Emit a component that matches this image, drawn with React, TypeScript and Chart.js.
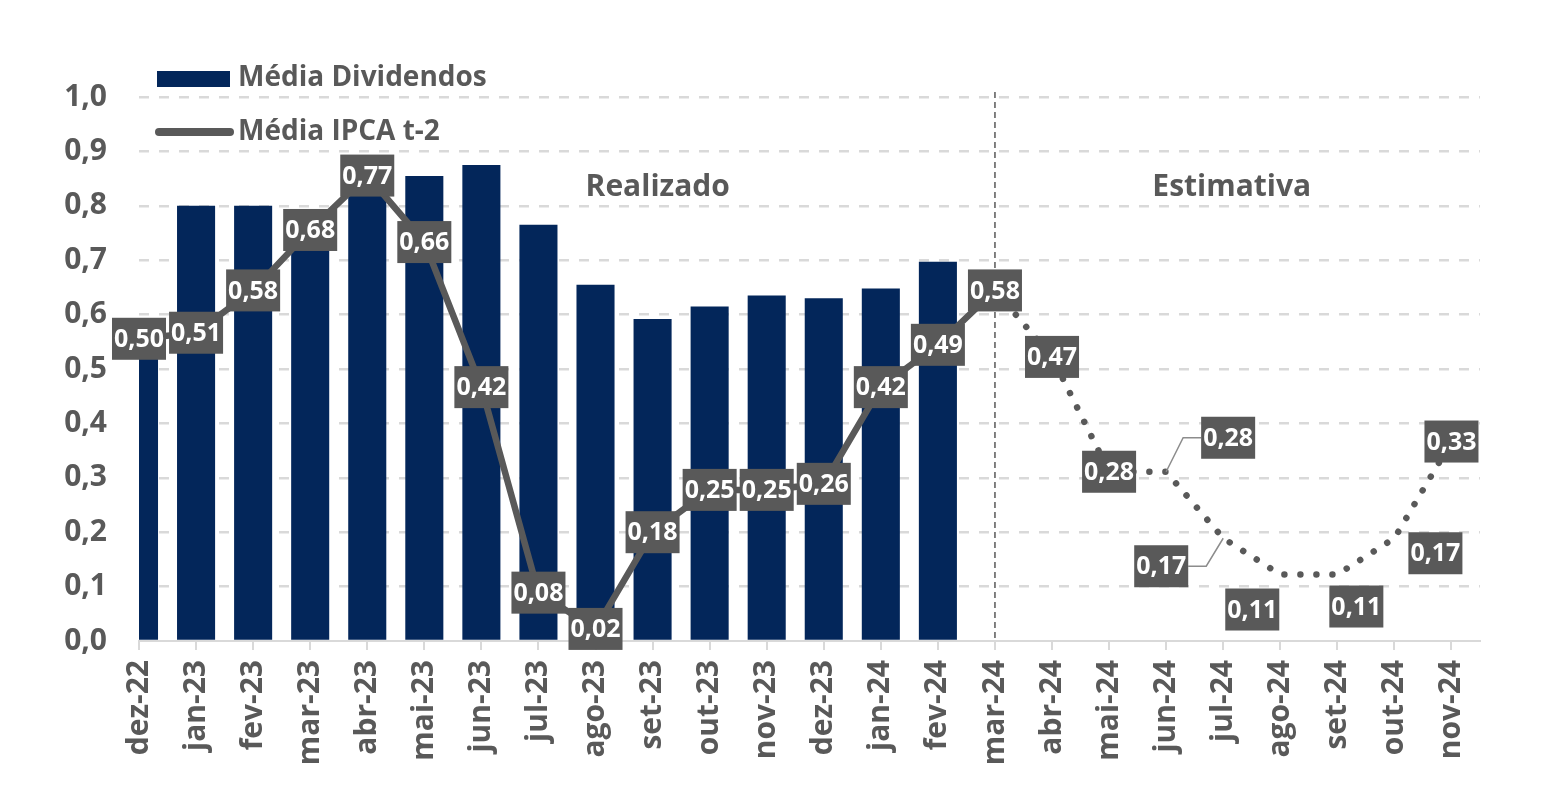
import { useEffect, useRef } from 'react'
import { Chart, registerables } from 'chart.js'

Chart.register(...registerables)

const months = [
  'dez-22', 'jan-23', 'fev-23', 'mar-23', 'abr-23', 'mai-23', 'jun-23', 'jul-23',
  'ago-23', 'set-23', 'out-23', 'nov-23', 'dez-23', 'jan-24', 'fev-24', 'mar-24',
  'abr-24', 'mai-24', 'jun-24', 'jul-24', 'ago-24', 'set-24', 'out-24', 'nov-24',
]

// Média Dividendos (realizado)
const dividendos = [0.58, 0.8, 0.8, 0.79, 0.84, 0.855, 0.875, 0.765, 0.655, 0.592, 0.615, 0.635, 0.63, 0.648, 0.697]

// Média IPCA t-2 (realizado até mar-24, estimativa depois)
const ipca = [
  0.5, 0.51, 0.58, 0.68, 0.77, 0.66, 0.42, 0.08, 0.02, 0.18, 0.25, 0.25, 0.26, 0.42, 0.49, 0.58,
  0.47, 0.28, 0.28, 0.17, 0.11, 0.11, 0.17, 0.33,
]

const sectionLabels = ['Realizado', 'Estimativa']

// index of the first estimated month (mar-24)
const firstEstimate = 15

const GRAY = '#595959'
const NAVY = '#03265A'
const GRID = '#d9d9d9'
const FONT = "'Open Sans', sans-serif"

// data-label placement tweaks (px), like the offsets moved by hand in Excel
const labelOffsets: Record<number, { dx: number; dy: number; leader?: boolean }> = {
  18: { dx: 62, dy: -34, leader: true },
  19: { dx: -62, dy: 28, leader: true },
  20: { dx: -28, dy: 35 },
  21: { dx: 19, dy: 32 },
  22: { dx: 41, dy: 15 },
}

const fmt = (v: number) => v.toFixed(2).replace('.', ',')

const annotations = {
  id: 'annotations',
  beforeDatasetsDraw(chart: any) {
    const { ctx, chartArea, scales } = chart
    const x = scales.x.getPixelForValue(firstEstimate)
    ctx.save()
    ctx.strokeStyle = GRAY
    ctx.lineWidth = 1.5
    ctx.setLineDash([6, 4])
    ctx.beginPath()
    ctx.moveTo(x, chartArea.top - 5)
    ctx.lineTo(x, chartArea.bottom)
    ctx.stroke()
    ctx.setLineDash([])
    ctx.fillStyle = GRAY
    ctx.font = `bold 30px ${FONT}`
    ctx.textAlign = 'center'
    ctx.textBaseline = 'middle'
    const ty = scales.y.getPixelForValue(0.833)
    ctx.fillText(sectionLabels[0], scales.x.getPixelForValue(9.09), ty)
    ctx.fillText(sectionLabels[1], scales.x.getPixelForValue(19.15), ty)
    ctx.restore()
  },
}

const boxLabels = {
  id: 'boxLabels',
  afterDatasetsDraw(chart: any) {
    const meta = chart.getDatasetMeta(0)
    const ctx = chart.ctx
    ctx.save()
    ctx.font = `bold 25px ${FONT}`
    ctx.textAlign = 'center'
    ctx.textBaseline = 'middle'
    meta.data.forEach((pt: any, i: number) => {
      const off = labelOffsets[i] || { dx: 0, dy: 0 }
      const text = fmt(ipca[i])
      const cx = pt.x + off.dx
      const cy = pt.y + off.dy
      const w = Math.max(52, ctx.measureText(text).width + 4)
      const h = 42
      if (off.leader) {
        const sx = off.dx > 0 ? cx - w / 2 : cx + w / 2
        const mx = off.dx > 0 ? sx - 18 : sx + 18
        ctx.strokeStyle = '#8c8c8c'
        ctx.lineWidth = 1.5
        ctx.beginPath()
        ctx.moveTo(sx, cy)
        ctx.lineTo(mx, cy)
        ctx.lineTo(pt.x, pt.y)
        ctx.stroke()
      }
      ctx.fillStyle = GRAY
      ctx.fillRect(cx - w / 2, cy - h / 2, w, h)
      ctx.fillStyle = '#ffffff'
      ctx.fillText(text, cx, cy + 1)
    })
    ctx.restore()
  },
}

const legendBox = {
  id: 'legendBox',
  afterDraw(chart: any) {
    const { ctx, chartArea } = chart
    const left = chartArea.left + 18
    const top = chartArea.top
    ctx.save()
    ctx.fillStyle = NAVY
    ctx.fillRect(left, top - 26, 73, 16)
    ctx.strokeStyle = GRAY
    ctx.lineWidth = 8
    ctx.lineCap = 'round'
    ctx.beginPath()
    ctx.moveTo(left + 2, top + 35)
    ctx.lineTo(left + 73, top + 35)
    ctx.stroke()
    ctx.fillStyle = GRAY
    ctx.font = `bold 28px ${FONT}`
    ctx.textAlign = 'left'
    ctx.textBaseline = 'middle'
    ctx.fillText(chart.data.datasets[1].label, left + 81, top - 19)
    ctx.fillText(chart.data.datasets[0].label, left + 81, top + 35)
    ctx.restore()
  },
}

const tickFont = { family: FONT, size: 30, weight: 'bold' as const }

const App = () => {
  const canvasRef = useRef<HTMLCanvasElement | null>(null)
  const chartRef = useRef<Chart | null>(null)

  useEffect(() => {
    document.body.style.margin = '0'
    const ctx = canvasRef.current?.getContext('2d')
    if (!ctx) return
    if (chartRef.current) chartRef.current.destroy()

    chartRef.current = new Chart(ctx, {
      type: 'bar',
      data: {
        datasets: [
          {
            type: 'line',
            label: 'Média IPCA t-2',
            data: ipca.map((v, i) => ({ x: i, y: v })),
            yAxisID: 'y2',
            borderColor: GRAY,
            borderWidth: 6.5,
            borderJoinStyle: 'miter',
            pointRadius: 0,
            tension: 0,
            order: 0,
            clip: false,
            segment: {
              borderDash: (c: any) => (c.p0DataIndex >= firstEstimate ? [0.01, 16] : undefined),
              borderCapStyle: (c: any) => (c.p0DataIndex >= firstEstimate ? 'round' : undefined),
            },
          } as any,
          {
            type: 'bar',
            label: 'Média Dividendos',
            data: dividendos.map((v, i) => ({ x: i, y: v })),
            backgroundColor: NAVY,
            barPercentage: 0.667,
            categoryPercentage: 1,
            order: 1,
            clip: { left: 0, top: false, right: false, bottom: false },
          } as any,
        ],
      },
      options: {
        animation: false,
        responsive: true,
        maintainAspectRatio: false,
        layout: { padding: { top: 97, right: 72, left: 0, bottom: 0 } },
        plugins: { legend: { display: false }, tooltip: { enabled: false } },
        scales: {
          x: {
            type: 'linear',
            min: 0,
            max: months.length - 0.5,
            offset: false,
            afterBuildTicks: (s: any) => {
              s.ticks = months.map((_, i) => ({ value: i }))
            },
            afterFit: (s: any) => {
              s.height = 171
            },
            ticks: {
              callback: (v: any) => months[v],
              autoSkip: false,
              minRotation: 90,
              maxRotation: 90,
              padding: 10,
              color: GRAY,
              font: tickFont,
            },
            grid: { drawOnChartArea: false, drawTicks: true, tickLength: 9, color: GRID, lineWidth: 2, offset: false },
            border: { display: true, color: GRID, width: 2 },
          },
          y: {
            min: 0,
            max: 1,
            afterFit: (s: any) => {
              s.width = 139
            },
            ticks: {
              stepSize: 0.1,
              callback: (v: any) => Number(v).toFixed(1).replace('.', ','),
              padding: 32,
              color: GRAY,
              font: tickFont,
            },
            grid: {
              color: (c: any) => (c.tick && c.tick.value === 0 ? 'rgba(0,0,0,0)' : GRID),
              lineWidth: 2.5,
              drawTicks: false,
            },
            border: { display: false, dash: [10, 10] },
          },
          y2: { display: false, min: 0, max: 0.9 },
        },
      } as any,
      plugins: [annotations, boxLabels, legendBox],
    })

    return () => {
      if (chartRef.current) {
        chartRef.current.destroy()
        chartRef.current = null
      }
    }
  }, [])

  return (
    <div style={{ width: 1552, height: 812, position: 'relative' }}>
      <canvas ref={canvasRef}></canvas>
    </div>
  )
}

export default App
